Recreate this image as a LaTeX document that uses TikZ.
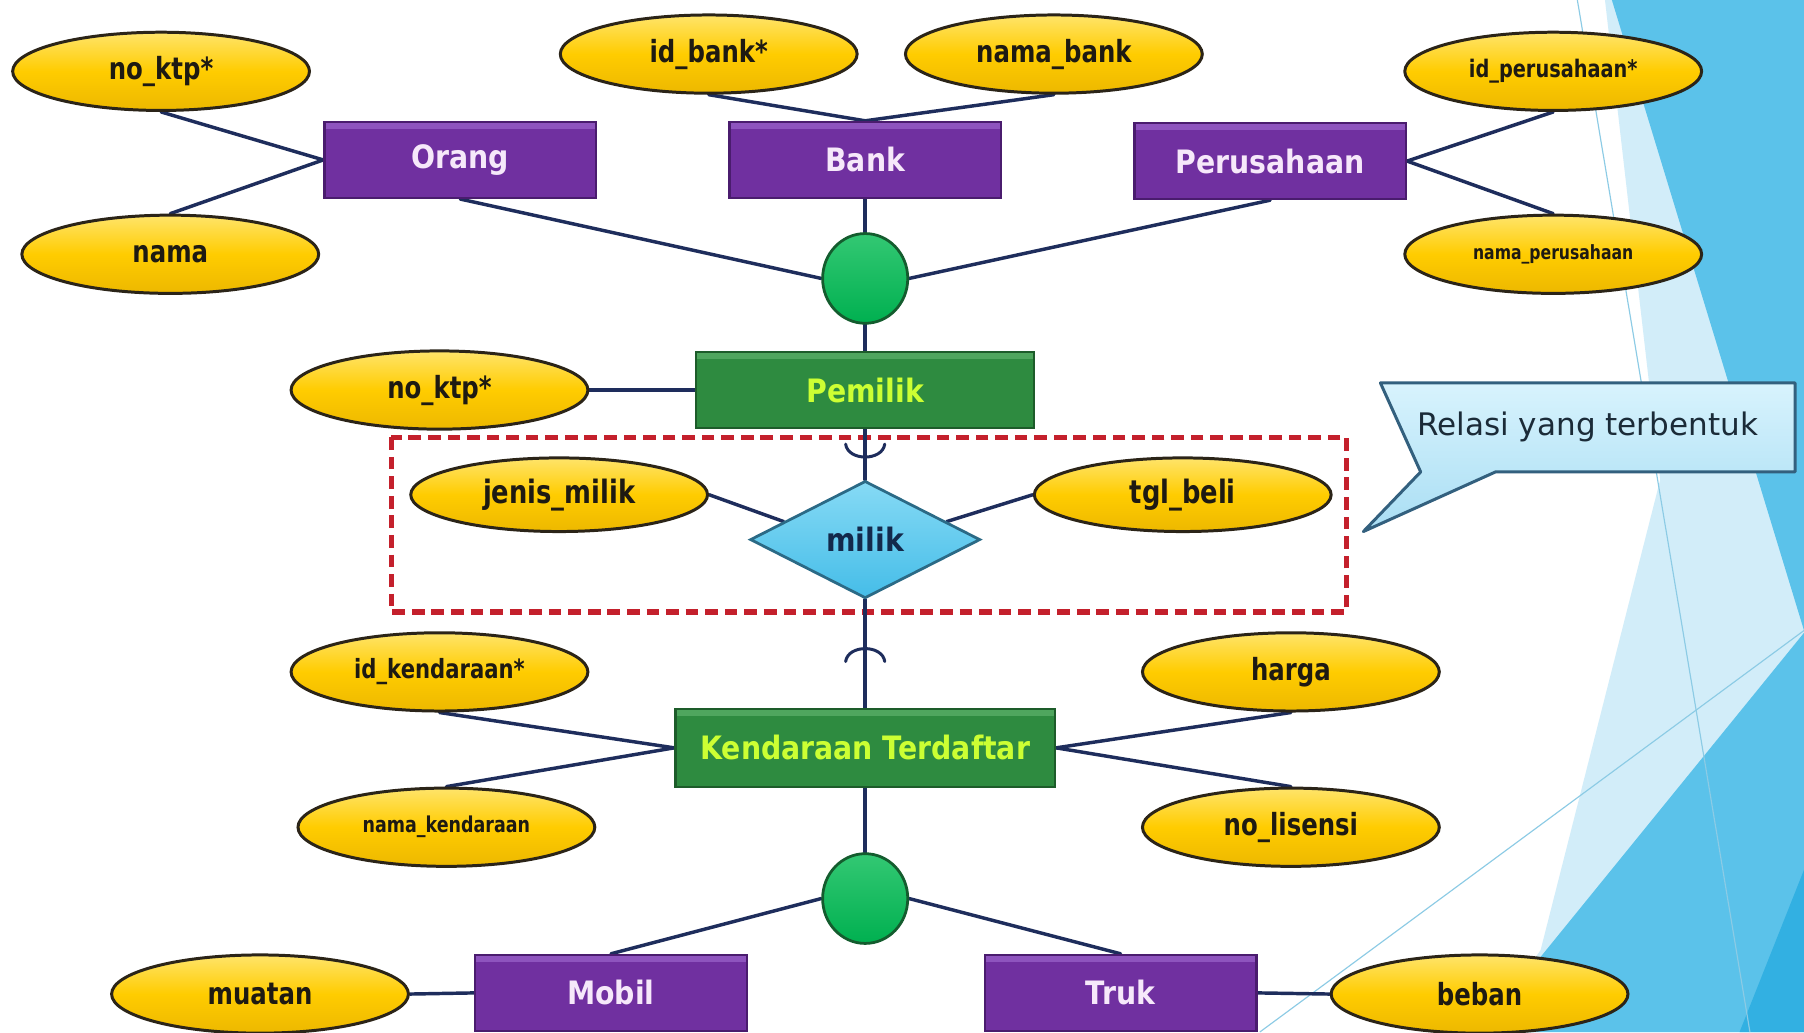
\documentclass[tikz,border=0pt]{standalone}
\usepackage{fontspec}
\setmainfont{DejaVu Sans}
\newfontfamily\attrfont[FakeStretch=0.8]{DejaVu Sans}
\newfontfamily\entfont[FakeStretch=0.88]{DejaVu Sans}
\usetikzlibrary{shapes.geometric,calc}
\pgfdeclarelayer{decor}
\pgfdeclarelayer{links}
\pgfsetlayers{decor,links,main}

\definecolor{attrFill}{HTML}{FFCC00}
\definecolor{attrTop}{HTML}{FFE46A}
\definecolor{attrBot}{HTML}{EDB800}
\definecolor{attrLine}{HTML}{2B2418}
\definecolor{attrText}{HTML}{1E1A12}
\definecolor{edgeCol}{HTML}{1E2D5C}
\definecolor{purpleFill}{HTML}{7030A0}
\definecolor{purpleTop}{HTML}{8E54BE}
\definecolor{purpleLine}{HTML}{4A1C6E}
\definecolor{purpleText}{HTML}{F6E8FA}
\definecolor{greenFill}{HTML}{2E8B40}
\definecolor{greenTop}{HTML}{4FA65E}
\definecolor{greenLine}{HTML}{1D5C2A}
\definecolor{limeText}{HTML}{CCFF33}
\definecolor{dotFill}{HTML}{00B050}
\definecolor{dotTop}{HTML}{33C873}
\definecolor{dotLine}{HTML}{145C2E}
\definecolor{relTop}{HTML}{86DAF5}
\definecolor{relBot}{HTML}{45BDE8}
\definecolor{relLine}{HTML}{2B6A86}
\definecolor{relText}{HTML}{13294B}
\definecolor{dashRed}{HTML}{C4202C}
\definecolor{noteTop}{HTML}{D8F3FD}
\definecolor{noteBot}{HTML}{A9DEF4}
\definecolor{noteLine}{HTML}{33607E}
\definecolor{noteText}{HTML}{1B2B38}
\definecolor{facetMid}{HTML}{5BC2EA}
\definecolor{facetPale}{HTML}{D2EDF9}
\definecolor{facetDark}{HTML}{32B0E2}
\definecolor{facetLine}{HTML}{8CCBE5}

\tikzset{
  attrbox/.style={ellipse, draw=attrLine, line width=2.6pt,
    top color=attrTop, bottom color=attrBot, middle color=attrFill,
    minimum width=258pt, minimum height=68pt, inner sep=0pt, text=attrText,
    font=\attrfont\bfseries\fontsize{26.5}{30}\selectfont},
  txtsize/.style={font=\attrfont\bfseries\fontsize{#1}{#1}\selectfont},
  entitybox/.style={rectangle, draw=purpleLine, line width=2pt, fill=purpleFill,
    minimum width=236pt, minimum height=66pt, inner sep=0pt, text=purpleText,
    font=\entfont\bfseries\fontsize{28}{30}\selectfont,
    path picture={\fill[purpleTop] (path picture bounding box.north west)
      rectangle ([yshift=-6pt]path picture bounding box.north east);}},
  weakbox/.style={rectangle, draw=greenLine, line width=2pt, fill=greenFill,
    minimum width=294pt, minimum height=66pt, inner sep=0pt, text=limeText,
    font=\entfont\bfseries\fontsize{28}{30}\selectfont,
    path picture={\fill[greenTop] (path picture bounding box.north west)
      rectangle ([yshift=-6pt]path picture bounding box.north east);}},
  joinpt/.style={ellipse, draw=dotLine, line width=2.4pt, top color=dotTop,
    bottom color=dotFill, minimum width=74pt, minimum height=78pt, inner sep=0pt},
  relbox/.style={diamond, aspect=2, draw=relLine, line width=2.4pt,
    top color=relTop, bottom color=relBot, minimum width=200pt,
    minimum height=102pt, inner sep=0pt, text=relText,
    font=\entfont\bfseries\fontsize{28}{30}\selectfont},
  notetext/.style={rectangle, minimum width=360pt, minimum height=77pt,
    inner sep=0pt, text=noteText, font=\fontsize{27}{30}\selectfont},
  notebox/.style={draw=noteLine, line width=2.6pt, line join=round,
    top color=noteTop, bottom color=noteBot},
  link/.style={draw=edgeCol, line width=3pt, line cap=round},
  arcmark/.style={draw=edgeCol, line width=2.6pt, line cap=round},
  dashbox/.style={draw=dashRed, line width=4.5pt, dash pattern=on 11pt off 6pt}
}

\begin{document}
\begin{tikzpicture}[x=1pt,y=-1pt]
\useasboundingbox (0,0) rectangle (1568,897);

% ---- supertype entities and their attributes
\node[attrbox] (ktpA) at (140,62) {no\_ktp*};
\node[attrbox] (namaA) at (148,221) {nama};
\node[entitybox] (orang) at (400,139) {Orang};
\node[attrbox] (idbank) at (616,47) {id\_bank*};
\node[attrbox] (namabank) at (916,47) {nama\_bank};
\node[entitybox] (bank) at (752,139) {Bank};
\node[entitybox] (perus) at (1104,140) {Perusahaan};
\node[attrbox, txtsize=21] (idper) at (1350,62) {id\_perusahaan*};
\node[attrbox, txtsize=17] (namaper) at (1350,221) {nama\_perusahaan};
\node[joinpt] (isaTop) at (752,242) {};

% ---- owner, relationship and vehicle
\node[weakbox] (pemilik) at (752,339) {Pemilik};
\node[attrbox] (ktpB) at (382,339) {no\_ktp*};
\node[relbox] (milik) at (752,469) {milik};
\node[attrbox, txtsize=28, minimum height=64pt] (jenis) at (486,430) {jenis\_milik};
\node[attrbox, txtsize=28, minimum height=64pt] (tgl) at (1028,430) {tgl\_beli};
\node[weakbox, minimum width=330pt, minimum height=68pt] (kendaraan) at (752,650) {Kendaraan Terdaftar};
\node[attrbox, txtsize=23] (idk) at (382,584) {id\_kendaraan*};
\node[attrbox, txtsize=19] (namak) at (388,719) {nama\_kendaraan};
\node[attrbox] (harga) at (1122,584) {harga};
\node[attrbox] (nolis) at (1122,719) {no\_lisensi};

% ---- vehicle subtypes
\node[joinpt] (isaBot) at (752,781) {};
\node[entitybox] (mobil) at (531,863) {Mobil};
\node[entitybox] (truk) at (974,863) {Truk};
\node[attrbox] (muatan) at (226,864) {muatan};
\node[attrbox] (beban) at (1286,864) {beban};

% ---- note
\node[notetext] (relasi) at (1380,371.5) {Relasi yang terbentuk};
\coordinate (noteTip) at (1185,462);

% ---- slide backdrop facets
\begin{pgfonlayer}{decor}
  \fill[white] (0,0) rectangle (1568,897);
  \fill[facetPale] (1395,0) -- (1568,0) -- (1568,897) -- (1286,897)
    -- (1339,826) -- (1443,417) -- cycle;
  \fill[facetMid] (1401,0) -- (1568,0) -- (1568,548) -- cycle;
  \fill[facetMid] (1568,550) -- (1568,897) -- (1286,897) -- cycle;
  \fill[facetDark] (1568,756) -- (1568,897) -- (1512,897) -- cycle;
  \draw[facetLine, line width=1pt] (1371,0) -- (1521,897);
  \draw[facetLine, line width=1pt] (1095,897) -- (1568,548);
\end{pgfonlayer}

% ---- connectors
\begin{pgfonlayer}{links}
  \draw[dashbox] (340,380) rectangle (1170,532);

  \path[link] (ktpA.south) -- (orang.west);
  \path[link] (namaA.north) -- (orang.west);
  \path[link] (idbank.south) -- (bank.north);
  \path[link] (namabank.south) -- (bank.north);
  \path[link] (idper.south) -- (perus.east);
  \path[link] (namaper.north) -- (perus.east);
  \path[link] (orang.south) -- (isaTop.west);
  \path[link] (bank.south) -- (isaTop.north);
  \path[link] (perus.south) -- (isaTop.east);
  \path[link] (isaTop.south) -- (pemilik.north);
  \path[link] (ktpB.east) -- (pemilik.west);

  \path[link] (pemilik.south) -- (milik.north);
  \path[link] (jenis.east) -- ($(milik.west)!0.3!(milik.north)$);
  \path[link] (tgl.west) -- ($(milik.east)!0.3!(milik.north)$);
  \path[link] (milik.south) -- (kendaraan.north);

  \path[link] (idk.south) -- (kendaraan.west);
  \path[link] (namak.north) -- (kendaraan.west);
  \path[link] (harga.south) -- (kendaraan.east);
  \path[link] (nolis.north) -- (kendaraan.east);
  \path[link] (kendaraan.south) -- (isaBot.north);
  \path[link] (isaBot.west) -- (mobil.north);
  \path[link] (isaBot.east) -- (truk.north);
  \path[link] (muatan.east) -- (mobil.west);
  \path[link] (truk.east) -- (beban.west);

  % participation arcs on the relationship line
  \path[arcmark] ($(pemilik.south)+(-17,13)$) .. controls +(2,15) and +(-2,15) .. ($(pemilik.south)+(17,13)$);
  \path[arcmark] ($(kendaraan.north)+(-17,-40)$) .. controls +(2,-15) and +(-2,-15) .. ($(kendaraan.north)+(17,-40)$);

  % speech bubble behind the note text
  \path[notebox] (relasi.north west) -- (relasi.north east) -- (relasi.south east)
    -- ($(relasi.south west)+(100,0)$) -- (noteTip)
    -- ($(relasi.south west)+(35,0)$) -- cycle;
\end{pgfonlayer}
\end{tikzpicture}
\end{document}
